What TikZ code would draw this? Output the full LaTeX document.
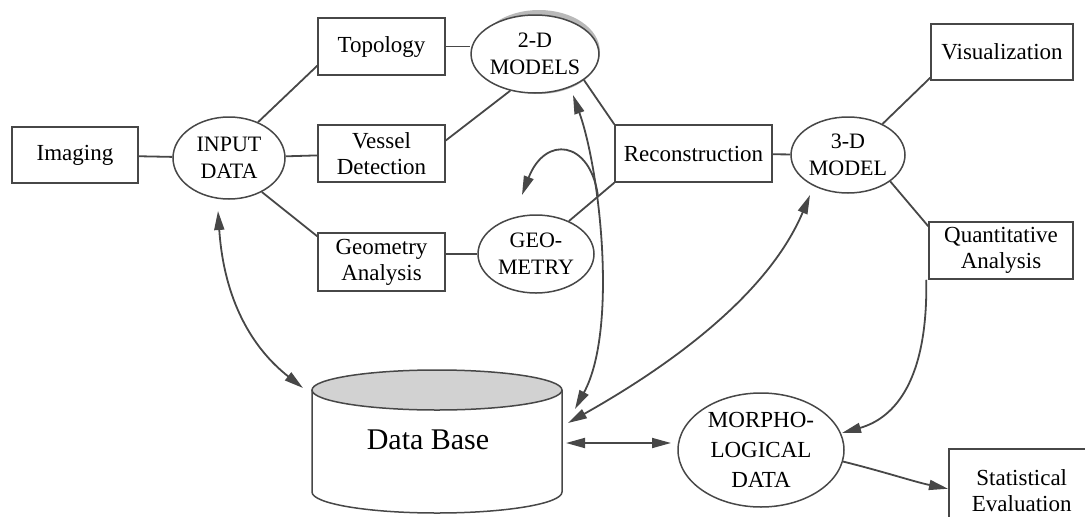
\documentclass[tikz,border=0pt]{standalone}
\usepackage{fontspec}
\setmainfont{Liberation Serif}
\usetikzlibrary{arrows.meta,calc,shapes.geometric}
\begin{document}
\begin{tikzpicture}[x=1pt,y=-1pt,
 ln/.style={draw=black!72, line width=1.8pt},
 box/.style={draw=black!72, line width=1.5pt, fill=white, align=center, inner sep=0pt, font=\rmfamily\fontsize{23}{26}\selectfont},
 ell/.style={ellipse, draw=black!72, line width=1.5pt, fill=white, align=center, inner sep=0pt, font=\rmfamily\fontsize{22}{27}\selectfont},
 arr/.style={ln, -{Triangle[length=19pt,width=10pt]}},
 darr/.style={ln, {Triangle[length=19pt,width=10pt]}-{Triangle[length=19pt,width=10pt]}},
]
\useasboundingbox (0,0) rectangle (1085,517);
\clip (0,0) rectangle (1085,517);

% shadow of 2-D models
\draw[gray!55, line width=6pt] ([xshift=4pt,yshift=2pt]535,54) ellipse[x radius=58pt, y radius=39pt];

% boxes
\node[box, minimum width=126, minimum height=56] (imaging) at (75,155) {Imaging};
\node[box, minimum width=127, minimum height=57] (topology) at (381.5,46.5) {Topology};
\node[box, minimum width=127, minimum height=57] (vessel) at (381.5,153.5) {Vessel\\Detection};
\node[box, minimum width=127, minimum height=58] (geometry) at (381.5,262) {Geometry\\Analysis};
\node[box, minimum width=157, minimum height=57] (recon) at (693.5,153.5) {Reconstruction};
\node[box, minimum width=142, minimum height=56] (vis) at (1002,52) {Visualization};
\node[box, minimum width=144, minimum height=57] (quant) at (1001,250.5) {Quantitative\\Analysis};
\node[box, minimum width=146, minimum height=84, anchor=north west] (stat) at (948,448) {Statistical\\Evaluation};

% ellipses
\node[ell, minimum width=112, minimum height=82] (input) at (229,158) {INPUT\\DATA};
\node[ell, minimum width=116, minimum height=78] (m2d) at (535,54) {2-D\\MODELS};
\node[ell, minimum width=116, minimum height=78] (geo) at (536,254) {GEO-\\METRY};
\node[ell, minimum width=114, minimum height=76] (m3d) at (848,155) {3-D\\MODEL};
\node[ell, minimum width=166, minimum height=114, font=\rmfamily\fontsize{23}{30}\selectfont] (morph) at (761,450) {MORPHO-\\LOGICAL\\DATA};

% data base cylinder
\fill[gray!35] (437,390) ellipse[x radius=125pt, y radius=20pt];
\draw[ln, line width=1.5pt] (437,390) ellipse[x radius=125pt, y radius=20pt];
\draw[ln, line width=1.5pt] (312,390) -- (312,492) arc[start angle=180, end angle=360, x radius=125pt, y radius=21pt] -- (562,390);
\node[font=\rmfamily\fontsize{30}{36}\selectfont, inner sep=0pt] (db) at (428,440) {Data Base};

% free arrow ends
\coordinate (inTip) at (218,211);
\coordinate (dbA) at (303,388);
\coordinate (m2Tip) at (573,95);
\coordinate (dbB) at (575,409);
\coordinate (hookS) at (598,196);
\coordinate (hookE) at (522,195);
\coordinate (m3Tip) at (810,195);
\coordinate (dbC) at (568,423);
\coordinate (dbD) at (566,443);
\coordinate (mwTip) at (671,443);
\coordinate (meTip) at (842,433);

% plain connectors
\draw[ln] (imaging) -- (input);
\draw[ln] (input.51) -- ([yshift=10pt]topology.south west);
\draw[ln] (input) -- (vessel);
\draw[ln] (input.-46) -- ([yshift=-4pt]geometry.north west);
\draw[ln] (topology.east) -- (topology.east -| m2d.west);
\draw[ln] ([yshift=13pt]vessel.east) -- (m2d.-124);
\draw[ln] (geo.west -| geometry.east) -- (geo.west);
\draw[ln] (m2d.-28) -- (recon.north west);
\draw[ln] (geo.45) -- (recon.south west);
\draw[ln] (recon) -- (m3d);
\draw[ln] (m3d.42) -- ([yshift=3pt]vis.south west);
\draw[ln] (m3d.-32) -- ([yshift=-5pt]quant.north west);

% arrows
\draw[darr] (inTip) .. controls (224,300) and (252,348) .. (dbA);
\draw[darr] (m2Tip) .. controls (600,170) and (618,330) .. (dbB);
\draw[arr] (hookS) .. controls (590,140) and (545,135) .. (hookE);
\draw[darr] (m3Tip) .. controls (770,290) and (680,360) .. (dbC);
\draw[darr] (dbD) -- (mwTip);
\draw[arr] ([xshift=-2pt]quant.south west) .. controls (928,380) and (895,418) .. (meTip);
\draw[arr] (morph.-8) .. controls (885,472) and (915,482) .. ([yshift=2pt]stat.west);
\end{tikzpicture}
\end{document}
